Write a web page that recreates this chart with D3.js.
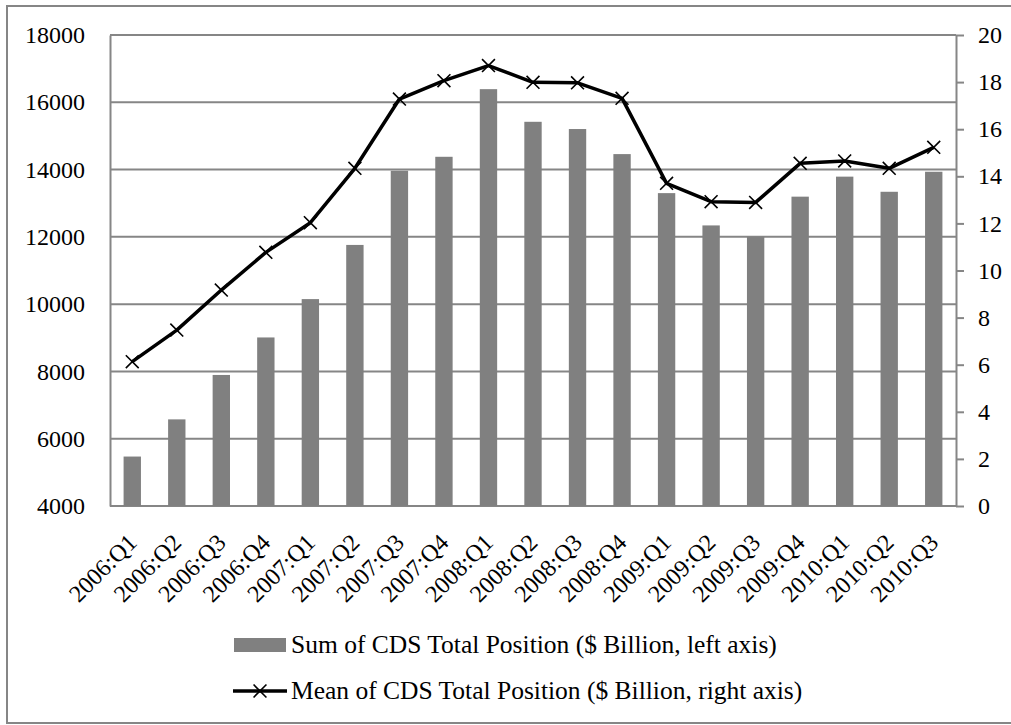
<!DOCTYPE html>
<html lang="en">
<head>
<meta charset="utf-8">
<title>CDS Total Position</title>
<script src="https://cdn.jsdelivr.net/npm/d3@7"></script>
<style>
  body { margin: 0; background: #fff; }
  text { font-family: "Liberation Serif", "DejaVu Serif", serif; font-size: 24px; fill: #000; }
  .legend text { font-size: 25.5px; }
</style>
</head>
<body>
<script>
// quarters
let quarters = ["2006:Q1","2006:Q2","2006:Q3","2006:Q4","2007:Q1","2007:Q2","2007:Q3","2007:Q4",
  "2008:Q1","2008:Q2","2008:Q3","2008:Q4","2009:Q1","2009:Q2","2009:Q3","2009:Q4",
  "2010:Q1","2010:Q2","2010:Q3"];

// sum of CDS total position ($ billion, left axis)
let sumValues = [5470, 6575, 7895, 9010, 10150, 11760, 13965, 14380,
  16390, 15420, 15205, 14460, 13300, 12340, 12005, 13195, 13790, 13340, 13935];

// mean of CDS total position ($ billion, right axis)
let meanValues = [6.13, 7.47, 9.17, 10.77, 12.03, 14.34, 17.28, 18.06,
  18.70, 17.99, 17.97, 17.31, 13.70, 12.92, 12.89, 14.55, 14.65, 14.34, 15.23];

let leftTicks = [4000, 6000, 8000, 10000, 12000, 14000, 16000, 18000];
let rightTicks = [0, 2, 4, 6, 8, 10, 12, 14, 16, 18, 20];

let legendLabels = ["Sum of CDS Total Position ($ Billion, left axis)",
  "Mean of CDS Total Position ($ Billion, right axis)"];

let w = 1011, h = 725;
let pLeft = 110, pRight = 956, pTop = 35, pBottom = 506;
let grey = "#868686";

let svg = d3.select("body").append("svg")
  .attr("width", w)
  .attr("height", h);

// outer frame
svg.append("rect")
  .attr("x", 7).attr("y", 6)
  .attr("width", w).attr("height", 717)
  .attr("fill", "none")
  .attr("stroke", grey)
  .attr("stroke-width", 2);

let x = d3.scaleBand()
  .domain(quarters)
  .range([pLeft, pRight])
  .paddingInner(0.61)
  .paddingOuter(0.305);

let xc = d3.scaleBand().domain(quarters).range([pLeft, pRight]);

let yL = d3.scaleLinear().domain([4000, 18000]).range([pBottom, pTop]);
let yR = d3.scaleLinear().domain([0, 20]).range([pBottom, pTop]);

// gridlines
svg.append("g")
  .selectAll("line")
  .data(leftTicks)
  .join("line")
    .attr("x1", pLeft).attr("x2", pRight)
    .attr("y1", d => yL(d)).attr("y2", d => yL(d))
    .attr("stroke", grey)
    .attr("stroke-width", 2);

// left axis
let axL = svg.append("g")
  .attr("transform", `translate(${pLeft},0)`)
  .call(d3.axisLeft(yL).tickValues(leftTicks).tickSize(0).tickPadding(25).tickFormat(d3.format("d")));
axL.select(".domain").attr("stroke", grey).attr("stroke-width", 2);

// right axis
let axR = svg.append("g")
  .attr("transform", `translate(${pRight},0)`)
  .call(d3.axisRight(yR).tickValues(rightTicks).tickSize(8).tickSizeOuter(0).tickPadding(14));
axR.select(".domain").attr("stroke", grey).attr("stroke-width", 2);
axR.selectAll("line").attr("stroke", grey).attr("stroke-width", 2);
axR.attr("font-size", null).attr("font-family", null);
axL.attr("font-size", null).attr("font-family", null);

// bottom axis line
svg.append("line")
  .attr("x1", pLeft).attr("x2", pRight)
  .attr("y1", pBottom).attr("y2", pBottom)
  .attr("stroke", grey)
  .attr("stroke-width", 2);

// bars
svg.append("g")
  .selectAll("rect")
  .data(sumValues)
  .join("rect")
    .attr("x", (d, i) => x(quarters[i]))
    .attr("y", d => yL(d))
    .attr("width", x.bandwidth())
    .attr("height", d => pBottom - yL(d))
    .attr("fill", "#808080");

// line
let cx = i => xc(quarters[i]) + xc.bandwidth() / 2;
let line = d3.line()
  .x((d, i) => cx(i))
  .y(d => yR(d));

svg.append("path")
  .datum(meanValues)
  .attr("d", line)
  .attr("fill", "none")
  .attr("stroke", "#000")
  .attr("stroke-width", 3.5)
  .attr("stroke-linejoin", "round");

let cross = d3.symbol().type(d3.symbolX).size(110);
svg.append("g")
  .selectAll("path")
  .data(meanValues)
  .join("path")
    .attr("transform", (d, i) => `translate(${cx(i)},${yR(d)})`)
    .attr("d", cross)
    .attr("fill", "none")
    .attr("stroke", "#000")
    .attr("stroke-width", 1.6);

// category labels
svg.append("g")
  .selectAll("text")
  .data(quarters)
  .join("text")
    .attr("transform", (d, i) => `translate(${cx(i) + 6},${544}) rotate(-45)`)
    .attr("text-anchor", "end")
    .text(d => d);

// legend
let lg = svg.append("g").attr("class", "legend");
lg.append("rect")
  .attr("x", 234).attr("y", 638)
  .attr("width", 52).attr("height", 14)
  .attr("fill", "#808080");
lg.append("text")
  .attr("x", 291).attr("y", 653)
  .text(legendLabels[0]);

lg.append("line")
  .attr("x1", 233).attr("x2", 287)
  .attr("y1", 691).attr("y2", 691)
  .attr("stroke", "#000")
  .attr("stroke-width", 3.5);
lg.append("path")
  .attr("transform", "translate(260,691)")
  .attr("d", cross)
  .attr("fill", "none")
  .attr("stroke", "#000")
  .attr("stroke-width", 1.6);
lg.append("text")
  .attr("x", 291).attr("y", 699)
  .text(legendLabels[1]);
</script>
</body>
</html>
